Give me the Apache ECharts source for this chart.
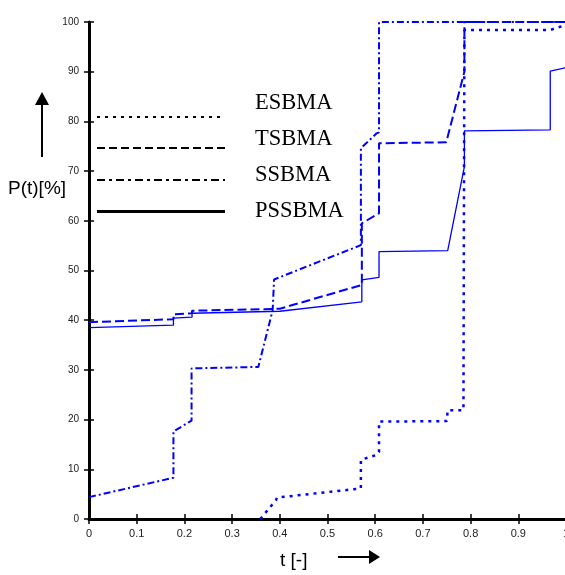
<!DOCTYPE html>
<html>
<head>
<meta charset="utf-8">
<script src="https://cdn.jsdelivr.net/npm/echarts@6/dist/echarts.min.js"></script>
<style>
  html, body { margin: 0; padding: 0; background: #fff; }
  #chart { width: 565px; height: 575px; }
</style>
</head>
<body>
<div id="chart"></div>
<script>
// 曲线数据 [t, P(t)]
const esbma = [[0.359, 0], [0.392, 3.8], [0.394, 4.3], [0.565, 6.1], [0.57, 6.2], [0.57, 11.9],
  [0.603, 12.9], [0.608, 13.5], [0.608, 19.6], [0.75, 19.7], [0.752, 21.9], [0.785, 21.9],
  [0.787, 22.0], [0.787, 98.4], [0.967, 98.4], [1.0, 99.4]]
const tsbma = [[0, 39.6], [0.177, 40.2], [0.177, 41.2], [0.216, 41.4], [0.216, 41.9], [0.4, 42.3],
  [0.572, 47.1], [0.572, 59.5], [0.608, 61.5], [0.608, 75.6], [0.749, 75.8], [0.787, 90],
  [0.787, 100], [1.0, 100]]
const ssbma = [[0, 4.4], [0.177, 8.3], [0.177, 17.6], [0.215, 19.8], [0.215, 30.3], [0.355, 30.6],
  [0.385, 42], [0.388, 48.2], [0.57, 55.1], [0.57, 74.6], [0.603, 77.6], [0.608, 77.8],
  [0.608, 100], [1.0, 100]]
const pssbma = [[0, 38.5], [0.177, 39.0], [0.177, 40.4], [0.216, 40.6], [0.216, 41.4], [0.4, 41.8],
  [0.572, 43.7], [0.572, 48.1], [0.608, 48.6], [0.608, 53.8], [0.752, 54.0], [0.787, 70.9],
  [0.787, 78.1], [0.967, 78.3], [0.967, 90.1], [1.0, 90.8]]

const legendNames = ['ESBMA', 'TSBMA', 'SSBMA', 'PSSBMA']
const legendDash = [[3, 5], [8, 4], [8, 4, 3, 4], null]

const chart = echarts.init(document.getElementById('chart'))

const blue = '#0000ff'
const lineSeries = (name, data, width, dash) => ({
  name: name,
  type: 'line',
  data: data,
  showSymbol: false,
  symbol: 'none',
  silent: true,
  lineStyle: { color: blue, width: width, type: dash || 'solid' }
})

const axisCommon = {
  type: 'value',
  splitLine: { show: false },
  axisTick: { inside: true, length: 5, lineStyle: { color: '#000', width: 1.5 } }
}

// 图例和坐标轴标题
const legendY = [117, 148, 180, 211.5]
const textY = [103, 139, 175, 211]
const graphics = []
legendNames.forEach((n, i) => {
  graphics.push({
    type: 'line',
    shape: { x1: 97, y1: legendY[i], x2: 225, y2: legendY[i] },
    style: { stroke: '#000', lineWidth: i === 3 ? 3 : 2, lineDash: legendDash[i] || null }
  })
  graphics.push({
    type: 'text',
    style: {
      text: n, x: 255, y: textY[i], fill: '#000',
      font: '22.5px "Liberation Serif", "Times New Roman", serif', verticalAlign: 'middle'
    }
  })
})
graphics.push(
  { type: 'text', style: { text: 'P(t)[%]', x: 8, y: 189, fill: '#000',
    font: '19px "Liberation Sans", Arial, sans-serif', verticalAlign: 'middle' } },
  { type: 'line', shape: { x1: 42, y1: 157, x2: 42, y2: 104 }, style: { stroke: '#000', lineWidth: 2 } },
  { type: 'polygon', shape: { points: [[35, 105], [49, 105], [42, 92]] }, style: { fill: '#000' } },
  { type: 'text', style: { text: 't [-]', x: 280, y: 561, fill: '#000',
    font: '19px "Liberation Sans", Arial, sans-serif', verticalAlign: 'middle' } },
  { type: 'line', shape: { x1: 338, y1: 557, x2: 370, y2: 557 }, style: { stroke: '#000', lineWidth: 2 } },
  { type: 'polygon', shape: { points: [[369, 550], [369, 564], [380, 557]] }, style: { fill: '#000' } }
)

const option = {
  animation: false,
  backgroundColor: '#fff',
  grid: { left: 89, top: 22, right: -1, bottom: 56, containLabel: false, outerBoundsMode: 'none' },
  xAxis: [
    Object.assign({}, axisCommon, {
      position: 'bottom', min: 0, max: 1, interval: 0.1,
      axisLine: { lineStyle: { color: '#000', width: 3 } },
      axisLabel: { color: '#222', fontSize: 11, margin: 9, fontFamily: '"Liberation Sans", Arial, sans-serif' }
    }),
    Object.assign({}, axisCommon, {
      position: 'top', min: 0, max: 1, interval: 0.1,
      axisLine: { lineStyle: { color: '#000', width: 2 } },
      axisLabel: { show: false }
    })
  ],
  yAxis: [
    Object.assign({}, axisCommon, {
      position: 'left', min: 0, max: 100, interval: 10,
      axisLine: { lineStyle: { color: '#000', width: 3 } },
      axisLabel: { color: '#222', fontSize: 10, margin: 10, fontFamily: '"Liberation Sans", Arial, sans-serif' }
    }),
    Object.assign({}, axisCommon, {
      position: 'right', min: 0, max: 100, interval: 10,
      axisLine: { lineStyle: { color: '#000', width: 2 } },
      axisLabel: { show: false }
    })
  ],
  series: [
    lineSeries('ESBMA', esbma, 2.5, [3, 5]),
    lineSeries('TSBMA', tsbma, 2, [9, 4]),
    lineSeries('SSBMA', ssbma, 2, [7, 3, 2, 3]),
    lineSeries('PSSBMA', pssbma, 1.3, null)
  ],
  graphic: graphics
}

chart.setOption(option)
</script>
</body>
</html>
